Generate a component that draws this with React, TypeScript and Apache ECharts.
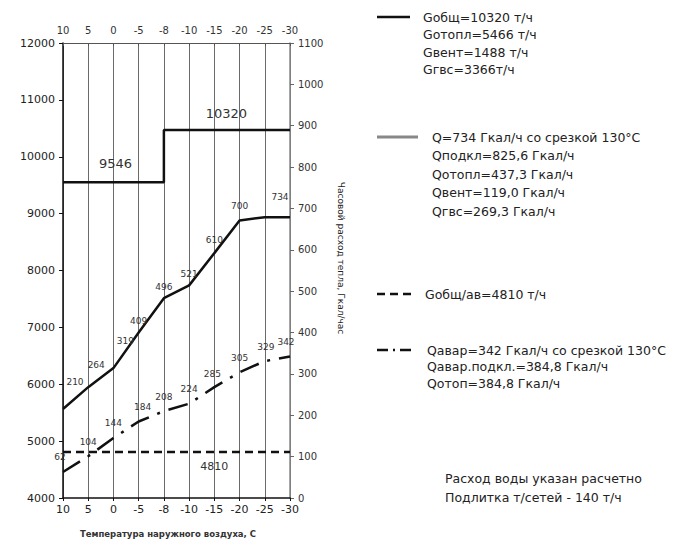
import React, { useEffect, useRef } from "react";
import * as echarts from "echarts";

// Outdoor temperature categories (°C)
const temps = ["10", "5", "0", "-5", "-8", "-10", "-15", "-20", "-25", "-30"];

// Total network flow, t/h (left axis), step at -8 °C
const gTotal = [9550, 9550, 9550, 9550, 9550, 10470, 10470, 10470, 10470, 10470];
const gTotalLabels = ["", "", "9546", "", "", "", "10320", "", "", ""];

// Heat load, Gcal/h (right axis)
const qLoad = [215, 268, 314, 400, 483, 514, 592, 671, 679, 679];
const qLoadLabels = ["210", "264", "319", "409", "496", "521", "610", "700", "", "734"];

// Emergency flow, t/h (left axis)
const gAvar = [4810, 4810, 4810, 4810, 4810, 4810, 4810, 4810, 4810, 4810];
const gAvarLabels = ["", "", "", "", "", "", "4810", "", "", ""];

// Emergency heat load, Gcal/h (right axis)
const qAvar = [63, 101, 145, 185, 210, 228, 268, 304, 331, 342];
const qAvarLabels = ["62", "104", "144", "184", "208", "224", "285", "305", "329", "342"];

// Legend / note texts
const legendG = ["Gобщ=10320 т/ч", "Gотопл=5466 т/ч", "Gвент=1488 т/ч", "Gгвс=3366т/ч"];
const legendQ = [
  "Q=734 Гкал/ч со срезкой 130°С",
  "Qподкл=825,6 Гкал/ч",
  "Qотопл=437,3 Гкал/ч",
  "Qвент=119,0 Гкал/ч",
  "Qгвс=269,3 Гкал/ч",
];
const legendGav = ["Gобщ/ав=4810 т/ч"];
const legendQav = [
  "Qавар=342 Гкал/ч со срезкой 130°С",
  "Qавар.подкл.=384,8 Гкал/ч",
  "Qотоп=384,8 Гкал/ч",
];
const notes = ["Расход воды указан расчетно", "Подлитка т/сетей - 140 т/ч"];

const FONT = "DejaVu Sans";

const qLoadOffsets: [number, number][] = [
  [12, -18], [8, -13], [12, -18], [0, -2], [0, -2], [0, -2], [0, -4], [0, -5], [0, 0], [-10, -11],
];
const qAvarOffsets: [number, number][] = [
  [-3, -5], [0, -5], [0, -5], [4, -5], [0, -5], [0, -5], [-2, -4], [0, -5], [1, -5], [-4, -5],
];

export default function App() {
  const ref = useRef<HTMLDivElement>(null);
  useEffect(() => {
    if (!ref.current) return;
    const chart = echarts.init(ref.current, null, { renderer: "svg" });

    const dataLabel = (text: string, offset: [number, number], pos: string = "top", size = 9) => ({
      show: text !== "",
      formatter: () => text,
      position: pos,
      distance: 5,
      offset,
      fontFamily: FONT,
      fontSize: size,
      color: "#333",
    });

    const textBlock = (lines: string[], x: number, y: number, step: number, size = 12.5) =>
      lines.map((t, i) => ({
        type: "text",
        x,
        y: y + i * step,
        style: {
          text: t,
          fontFamily: FONT,
          fontSize: size,
          fill: "#222",
          verticalAlign: "middle",
        },
      }));

    const hiddenSymbol = {
      symbol: "circle",
      symbolSize: 0.1,
      showSymbol: true,
      itemStyle: { color: "rgba(0,0,0,0)", borderWidth: 0 },
    };

    chart.setOption({
      animation: false,
      backgroundColor: "#fff",
      grid: { left: 63, right: 383, top: 43, bottom: 44, containLabel: false, outerBoundsMode: "none" },
      xAxis: [
        {
          type: "category",
          data: temps,
          boundaryGap: false,
          position: "bottom",
          axisLine: { lineStyle: { color: "#111", width: 1.5 } },
          axisTick: { show: true, length: 3, lineStyle: { color: "#111" } },
          axisLabel: { fontFamily: FONT, fontSize: 11, color: "#222", margin: 6 },
          splitLine: { show: true, lineStyle: { color: "#6a6a6a", width: 1 } },
        },
        {
          type: "category",
          data: temps,
          boundaryGap: false,
          position: "top",
          axisLine: { lineStyle: { color: "#555", width: 1.2 } },
          axisTick: { show: true, length: 3, inside: true, lineStyle: { color: "#555" } },
          axisLabel: { fontFamily: FONT, fontSize: 10, color: "#333", margin: 8 },
          splitLine: { show: false },
        },
      ],
      yAxis: [
        {
          type: "value",
          min: 4000,
          max: 12000,
          interval: 1000,
          position: "left",
          axisLine: { show: true, lineStyle: { color: "#111", width: 1.5 } },
          axisTick: { show: true, length: 4, lineStyle: { color: "#111" } },
          axisLabel: {
            fontFamily: FONT,
            fontSize: 11,
            color: "#222",
            margin: 8,
            formatter: (v: number) => String(v),
          },
          splitLine: { show: false },
        },
        {
          type: "value",
          min: 0,
          max: 1100,
          interval: 100,
          position: "right",
          axisLine: { show: true, lineStyle: { color: "#888", width: 1.5 } },
          axisTick: { show: true, length: 4, lineStyle: { color: "#666" } },
          axisLabel: {
            fontFamily: FONT,
            fontSize: 10,
            color: "#333",
            margin: 8,
            formatter: (v: number) => String(v),
          },
          splitLine: { show: false },
        },
      ],
      graphic: [
        {
          type: "text",
          x: 341,
          y: 258,
          rotation: -Math.PI / 2,
          style: {
            text: "Часовой расход тепла, Гкал/час",
            fontFamily: FONT,
            fontSize: 9,
            fill: "#222",
            align: "center",
            verticalAlign: "middle",
          },
        },
        {
          type: "text",
          x: 168,
          y: 534,
          style: {
            text: "Температура наружного воздуха, С",
            fontFamily: FONT,
            fontSize: 8.5,
            fontWeight: "bold",
            fill: "#333",
            align: "center",
            verticalAlign: "middle",
          },
        },
        { type: "line", shape: { x1: 377, y1: 17, x2: 410, y2: 17 }, style: { stroke: "#111", lineWidth: 2.5 } },
        ...textBlock(legendG, 423, 17, 17.5),
        { type: "line", shape: { x1: 377, y1: 137, x2: 418, y2: 137 }, style: { stroke: "#888", lineWidth: 3 } },
        ...textBlock(legendQ, 432, 137, 18.5),
        {
          type: "line",
          shape: { x1: 377, y1: 294, x2: 413, y2: 294 },
          style: { stroke: "#111", lineWidth: 2.5, lineDash: [8, 5] },
        },
        ...textBlock(legendGav, 425, 294, 17),
        {
          type: "line",
          shape: { x1: 377, y1: 350, x2: 414, y2: 350 },
          style: { stroke: "#111", lineWidth: 2.5, lineDash: [11, 5, 2, 5] },
        },
        ...textBlock(legendQav, 427, 350, 16.5),
        ...textBlock(notes, 445, 478, 19),
      ],
      series: [
        {
          name: "Gобщ",
          type: "line",
          xAxisIndex: 0,
          yAxisIndex: 0,
          step: "start",
          ...hiddenSymbol,
          lineStyle: { color: "#111", width: 2.5 },
          data: gTotal.map((v, i) => ({
            value: v,
            label: dataLabel(gTotalLabels[i], i === 2 ? [2, -7] : [12, -5], "top", 13),
          })),
          z: 3,
        },
        {
          name: "Q",
          type: "line",
          xAxisIndex: 0,
          yAxisIndex: 1,
          ...hiddenSymbol,
          lineStyle: { color: "#111", width: 2.5 },
          data: qLoad.map((v, i) => ({ value: v, label: dataLabel(qLoadLabels[i], qLoadOffsets[i]) })),
          z: 3,
        },
        {
          name: "Gобщ/ав",
          type: "line",
          xAxisIndex: 0,
          yAxisIndex: 0,
          ...hiddenSymbol,
          lineStyle: { color: "#111", width: 2.5, type: [8, 5] },
          data: gAvar.map((v, i) => ({
            value: v,
            label: dataLabel(gAvarLabels[i], [0, 4], "bottom", 11),
          })),
          z: 3,
        },
        {
          name: "Qавар",
          type: "line",
          xAxisIndex: 0,
          yAxisIndex: 1,
          ...hiddenSymbol,
          lineStyle: { color: "#111", width: 2.5, type: [20, 9, 3, 9] },
          data: qAvar.map((v, i) => ({ value: v, label: dataLabel(qAvarLabels[i], qAvarOffsets[i]) })),
          z: 3,
        },
      ],
    });
    return () => chart.dispose();
  }, []);
  return <div ref={ref} style={{ width: 673, height: 542, position: "fixed", left: 0, top: 0 }} />;
}
